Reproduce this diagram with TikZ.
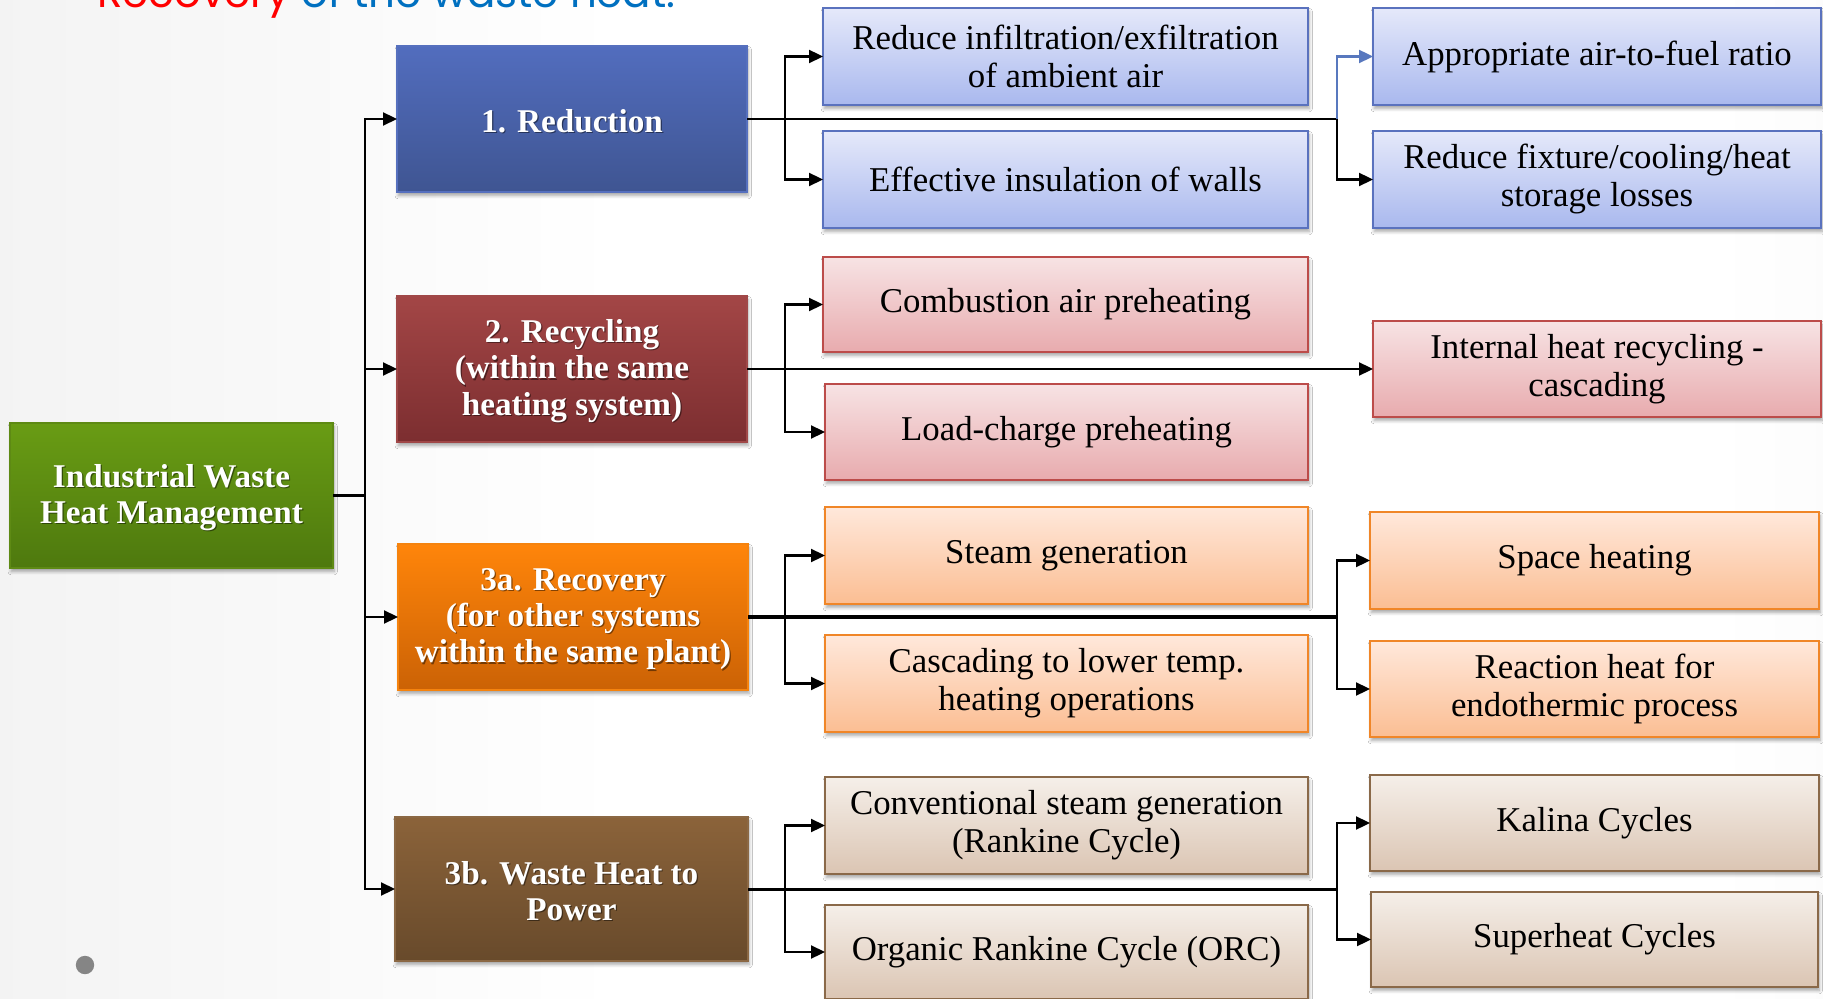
\documentclass[tikz,border=0pt]{standalone}
\usepackage{fontspec}
\setmainfont{Liberation Serif}
\newfontfamily\titlefont{Poppins}
\usetikzlibrary{arrows.meta,shadows.blur}

% fills and borders
\definecolor{bgL}{HTML}{E2E2E2}
\definecolor{bgR}{HTML}{E6E6E6}
\definecolor{ttred}{HTML}{FF0000}
\definecolor{ttblue}{HTML}{0070C0}
\definecolor{dotgray}{HTML}{858585}
\definecolor{grnT}{HTML}{699C14}\definecolor{grnB}{HTML}{4E790E}\definecolor{grnD}{HTML}{5E8A14}
\definecolor{bluT}{HTML}{526DBE}\definecolor{bluB}{HTML}{3F5592}\definecolor{bluD}{HTML}{5670BE}
\definecolor{redT}{HTML}{A34646}\definecolor{redB}{HTML}{7C2E30}\definecolor{redD}{HTML}{A04848}
\definecolor{orgT}{HTML}{FF850A}\definecolor{orgB}{HTML}{CB6205}\definecolor{orgD}{HTML}{F5830E}
\definecolor{brnT}{HTML}{8B633A}\definecolor{brnB}{HTML}{684A2B}\definecolor{brnD}{HTML}{8B6844}
\definecolor{lbT}{HTML}{E5E9FA}\definecolor{lbB}{HTML}{A9B8EE}\definecolor{lbD}{HTML}{5A72BE}
\definecolor{lrT}{HTML}{F7E3E4}\definecolor{lrB}{HTML}{E8ABAE}\definecolor{lrD}{HTML}{BC4C4A}
\definecolor{loT}{HTML}{FFE8DB}\definecolor{loB}{HTML}{FBBE93}\definecolor{loD}{HTML}{F08628}
\definecolor{lnT}{HTML}{F5EFE9}\definecolor{lnB}{HTML}{DBC5B3}\definecolor{lnD}{HTML}{8A6949}
\definecolor{lnkblue}{HTML}{5878BE}

\pgfdeclarehorizontalshading{bgshade}{100bp}{color(0bp)=(bgL); color(42bp)=(white); color(72bp)=(white); color(100bp)=(bgR)}

% light box: name, x1, y1, x2, y2, style, text
\newcommand\pbox[7]{%
  \node[#6, minimum width={(#4-#2)*0.5pt}, minimum height={(#5-#3)*0.5pt}]
    (#1) at ({(#2+#4)/2},{(#3+#5)/2}) {#7};}
% dark box with shadowed white lettering
\newcommand\dbox[7]{%
  \node[#6, minimum width={(#4-#2)*0.5pt}, minimum height={(#5-#3)*0.5pt}]
    (#1) at ({(#2+#4)/2},{(#3+#5)/2}) {};
  \node[dtext, text=black, text opacity=0.45] (#1-s) at ([shift={(0.6pt,-1.6pt)}]#1.center) {#7};
  \node[dtext] (#1-t) at ([yshift=-1pt]#1.center) {#7};}

\begin{document}
\begin{tikzpicture}[x=0.5pt,y=-0.5pt,
  box/.style={draw, line width=1pt, inner sep=0pt, outer sep=0pt, align=center,
    blur shadow={shadow xshift=0.6pt, shadow yshift=-1.8pt, shadow opacity=35,
      shadow blur steps=6, shadow blur radius=1.6pt}},
  lite/.style={box, font=\fontsize{17.4}{19}\selectfont, text=black},
  dark/.style={box},
  dtext/.style={align=center, inner sep=0pt, text=white,
    font=\fontsize{16.6}{18.2}\selectfont\bfseries},
  bl/.style={lite, draw=lbD, top color=lbT, bottom color=lbB},
  rl/.style={lite, draw=lrD, top color=lrT, bottom color=lrB},
  ol/.style={lite, draw=loD, top color=loT, bottom color=loB},
  nl/.style={lite, draw=lnD, top color=lnT, bottom color=lnB},
  ln/.style={line width=1.1pt},
  thk/.style={line width=1.9pt},
  arr/.style={line width=1.1pt, -{Triangle[length=7pt,width=6.5pt]}}]

\useasboundingbox (0,0) rectangle (1823,999);
\clip (0,0) rectangle (1823,999);

% page background
\shade[shading=bgshade] (0,0) rectangle (1823,999);

% heading, mostly above the top edge
\node[anchor=base west, inner sep=0pt, font=\titlefont\fontsize{21}{24}\selectfont] (head)
  at (97,8) {\textcolor{ttred}{Recovery} \textcolor{ttblue}{of the waste heat.}};

% slide bullet
\fill[dotgray] (85,965) circle (4.6pt);

% root and first-level boxes
\dbox{iw}{10}{423}{333}{568}{dark, draw=grnD, top color=grnT, bottom color=grnB}{Industrial Waste\\Heat Management}
\dbox{red}{397}{46}{747}{192}{dark, draw=bluD, top color=bluT, bottom color=bluB}{1. Reduction}
\dbox{rec}{397}{296}{747}{442}{dark, draw=redD, top color=redT, bottom color=redB}{2. Recycling\\(within the same\\heating system)}
\dbox{rca}{398}{544}{748}{690}{dark, draw=orgD, top color=orgT, bottom color=orgB}{3a. Recovery\\(for other systems\\within the same plant)}
\dbox{pow}{395}{817}{748}{961}{dark, draw=brnD, top color=brnT, bottom color=brnB}{3b. Waste Heat to\\Power}

% second column
\pbox{inf}{823}{8}{1308}{105}{bl}{Reduce infiltration/exfiltration\\of ambient air}
\pbox{ins}{823}{131}{1308}{228}{bl}{Effective insulation of walls}
\pbox{cap}{823}{257}{1308}{352}{rl}{Combustion air preheating}
\pbox{lcp}{825}{384}{1308}{480}{rl}{Load-charge preheating}
\pbox{stm}{825}{507}{1308}{604}{ol}{Steam generation}
\pbox{csc}{825}{635}{1308}{732}{ol}{Cascading to lower temp.\\heating operations}
\pbox{cnv}{825}{777}{1308}{874}{nl}{Conventional steam generation\\(Rankine Cycle)}
\pbox{orc}{825}{905}{1308}{999}{nl}{Organic Rankine Cycle (ORC)}

% third column
\pbox{afr}{1373}{8}{1821}{105}{bl}{Appropriate air-to-fuel ratio}
\pbox{fix}{1373}{131}{1821}{228}{bl}{Reduce fixture/cooling/heat\\storage losses}
\pbox{ihr}{1373}{321}{1821}{417}{rl}{Internal heat recycling -\\cascading}
\pbox{sph}{1370}{512}{1819}{609}{ol}{Space heating}
\pbox{rxn}{1370}{641}{1819}{737}{ol}{Reaction heat for\\endothermic process}
\pbox{kal}{1370}{775}{1819}{871}{nl}{Kalina Cycles}
\pbox{sup}{1371}{892}{1818}{987}{nl}{Superheat Cycles}

% branch lines
\coordinate (bus) at (365,0);
\coordinate (bl) at (785,0);
\coordinate (br) at (1337,0);

% root to first level
\draw[thk] (iw.east) -- (iw.east -| bus);
\foreach \t in {red,rec,rca,pow}
  \draw[arr] (iw.east -| bus) |- (\t.west);

% 1. Reduction
\draw[ln] (red.east) -- (red.east -| br);
\draw[arr] (red.east -| bl) |- (inf.west);
\draw[arr] (red.east -| bl) |- (ins.west);
\draw[arr, draw=lnkblue, -{Triangle[length=7pt,width=6.5pt,fill=lnkblue]}] (red.east -| br) |- (afr.west);
\draw[arr] (red.east -| br) |- (fix.west);

% 2. Recycling
\draw[arr] (rec.east) -- (ihr.west);
\draw[arr] (rec.east -| bl) |- (cap.west);
\draw[arr] (rec.east -| bl) |- (lcp.west);

% 3a. Recovery
\draw[thk] (rca.east) -- (rca.east -| br);
\draw[arr] (rca.east -| bl) |- (stm.west);
\draw[arr] (rca.east -| bl) |- (csc.west);
\draw[arr] (rca.east -| br) |- (sph.west);
\draw[arr] (rca.east -| br) |- (rxn.west);

% 3b. Waste heat to power
\draw[line width=1.5pt] (pow.east) -- (pow.east -| br);
\draw[arr] (pow.east -| bl) |- (cnv.west);
\draw[arr] (pow.east -| bl) |- (orc.west);
\draw[arr] (pow.east -| br) |- (kal.west);
\draw[arr] (pow.east -| br) |- (sup.west);
\end{tikzpicture}
\end{document}
